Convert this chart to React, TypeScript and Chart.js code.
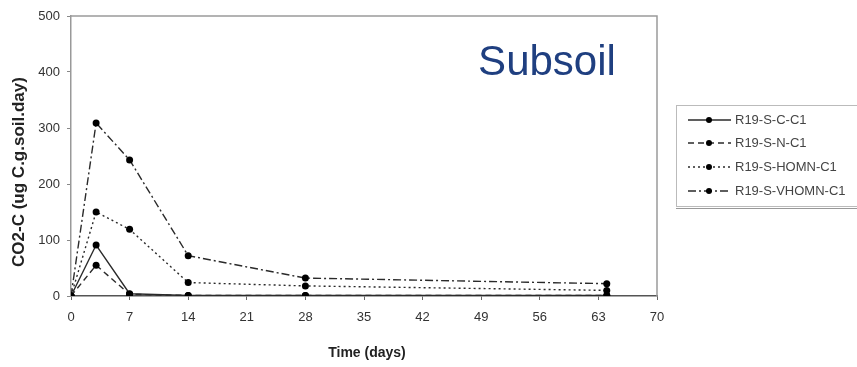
import React, { useEffect, useRef } from "react";
import { Chart, registerables } from "chart.js";

Chart.register(...registerables);

const days = [0, 3, 7, 14, 28, 64];
const seriesLabels = ["R19-S-C-C1", "R19-S-N-C1", "R19-S-HOMN-C1", "R19-S-VHOMN-C1"];
const valuesC = [0, 91, 4, 1, 1, 1];
const valuesN = [0, 55, 3, 1, 1, 1];
const valuesHOMN = [0, 150, 119, 24, 18, 10];
const valuesVHOMN = [0, 309, 243, 72, 32, 22];
const xTicks = [0, 7, 14, 21, 28, 35, 42, 49, 56, 63, 70];
const yTicks = [0, 100, 200, 300, 400, 500];
const xTitle = "Time (days)";
const yTitle = "CO2-C (ug C.g.soil.day)";
const panelLabel = "Subsoil";

const FONT = "'Liberation Sans', Arial, sans-serif";

export default function App() {
  const ref = useRef<HTMLCanvasElement>(null);
  useEffect(() => {
    document.body.style.margin = "0";
    const dashes = [[], [6, 4], [2, 3], [8, 3, 2, 3]];
    const vals = [valuesC, valuesN, valuesHOMN, valuesVHOMN];
    const datasets = vals.map((v, i) => ({
      label: seriesLabels[i],
      data: v.map((y, j) => ({ x: days[j], y })),
      borderColor: "#2a2a2a",
      backgroundColor: "#000",
      borderWidth: 1.4,
      borderDash: dashes[i],
      pointRadius: 3.5,
      pointBorderWidth: 0,
      pointBackgroundColor: "#000",
      tension: 0,
    }));

    const framePlugin = {
      id: "frame",
      afterDraw(chart: any) {
        const { ctx, chartArea: a } = chart;
        ctx.save();
        ctx.strokeStyle = "#9a9a9a";
        ctx.lineWidth = 1.5;
        ctx.beginPath();
        ctx.moveTo(a.left, a.top);
        ctx.lineTo(a.right, a.top);
        ctx.lineTo(a.right, a.bottom);
        ctx.stroke();
        // axis titles
        ctx.fillStyle = "#222";
        ctx.font = `bold 14px ${FONT}`;
        ctx.textAlign = "center";
        ctx.textBaseline = "middle";
        ctx.fillText(xTitle, 367, 353);
        ctx.save();
        ctx.translate(19, 172);
        ctx.rotate(-Math.PI / 2);
        ctx.font = `bold 17px ${FONT}`;
        ctx.fillText(yTitle, 0, 0);
        ctx.restore();
        // Subsoil label
        ctx.fillStyle = "#1f3f80";
        ctx.font = `42px ${FONT}`;
        ctx.textAlign = "center";
        ctx.textBaseline = "middle";
        ctx.fillText(panelLabel, 547, 63);
        // Legend
        const bx = 676, by = 105, bw = 182, bh = 101;
        ctx.strokeStyle = "#bbb";
        ctx.lineWidth = 1;
        ctx.strokeRect(bx + 0.5, by + 0.5, bw, bh);
        ctx.strokeStyle = "#999";
        ctx.beginPath();
        ctx.moveTo(bx, by + bh + 2.5);
        ctx.lineTo(bx + bw, by + bh + 2.5);
        ctx.stroke();
        const rows = [120, 143, 167, 191];
        chart.data.datasets.forEach((ds: any, i: number) => {
          const y = rows[i];
          ctx.strokeStyle = "#2a2a2a";
          ctx.lineWidth = 1.4;
          ctx.setLineDash(ds.borderDash);
          ctx.beginPath();
          ctx.moveTo(688, y);
          ctx.lineTo(731, y);
          ctx.stroke();
          ctx.setLineDash([]);
          ctx.fillStyle = "#000";
          ctx.beginPath();
          ctx.arc(709, y, 3, 0, Math.PI * 2);
          ctx.fill();
          ctx.fillStyle = "#444";
          ctx.font = `13px ${FONT}`;
          ctx.textAlign = "left";
          ctx.textBaseline = "middle";
          ctx.fillText(ds.label, 735, y);
        });
        ctx.restore();
      },
    };

    const chart = new Chart(ref.current!, {
      type: "line",
      data: { datasets },
      options: {
        animation: false,
        responsive: false,
        layout: { padding: { left: 0, top: 16, right: 200, bottom: 0 } },
        plugins: { legend: { display: false }, tooltip: { enabled: false } },
        scales: {
          x: {
            type: "linear",
            min: 0,
            max: 70,
            afterBuildTicks: (s: any) => { s.ticks = xTicks.map((v) => ({ value: v })); },
            ticks: { color: "#333", font: { family: FONT, size: 13 }, padding: 10, maxRotation: 0 },
            grid: { drawOnChartArea: false, drawTicks: true, tickLength: 4, color: "#666" },
            border: { display: true, color: "#555", width: 1.5 },
            afterFit: (s: any) => { s.height = 71; },
          },
          y: {
            type: "linear",
            min: 0,
            max: 500,
            afterBuildTicks: (s: any) => { s.ticks = yTicks.map((v) => ({ value: v })); },
            ticks: { color: "#333", font: { family: FONT, size: 13 }, padding: 7 },
            grid: { drawOnChartArea: false, drawTicks: true, tickLength: 4, color: "#888" },
            border: { display: true, color: "#999", width: 1.5 },
            afterFit: (s: any) => { s.width = 71; },
          },
        },
      },
      plugins: [framePlugin],
    });
    return () => chart.destroy();
  }, []);
  return (
    <div style={{ position: "fixed", left: 0, top: 0, width: 857, height: 367, background: "#fff" }}>
      <canvas ref={ref} width={857} height={367} style={{ width: 857, height: 367 }} />
    </div>
  );
}
